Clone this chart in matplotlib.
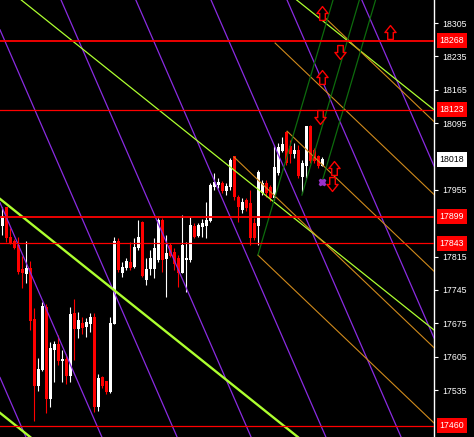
import matplotlib
matplotlib.use("Agg")
import matplotlib.pyplot as plt
from matplotlib.path import Path
import numpy as np

# OHLC of the 81 bars
opens = [17881, 17917, 17854, 17847, 17839, 17787, 17780, 17789, 17682, 17545,
         17577, 17709, 17518, 17619, 17631, 17596, 17600, 17566, 17696, 17663,
         17675, 17669, 17675, 17688, 17501, 17562, 17552, 17531, 17675, 17847,
         17782, 17791, 17803, 17795, 17833, 17887, 17766, 17789, 17789, 17808,
         17891, 17810, 17839, 17824, 17812, 17782, 17808, 17808, 17879, 17860,
         17877, 17881, 17891, 17961, 17967, 17969, 17954, 17961, 18024, 17940,
         17913, 17933, 17927, 17885, 17881, 17950, 17969, 17959, 17938, 17992,
         18038, 18076, 18045, 18032, 18038, 17982, 18007, 18087, 18038, 18024,
         18007]
closes = [17900, 17854, 17843, 17833, 17784, 17782, 17791, 17680, 17545, 17579,
          17711, 17518, 17623, 17631, 17596, 17600, 17566, 17694, 17665, 17680,
          17667, 17677, 17688, 17501, 17560, 17545, 17531, 17675, 17847, 17787,
          17793, 17805, 17791, 17835, 17856, 17776, 17787, 17812, 17833, 17891,
          17808, 17822, 17818, 17801, 17782, 17839, 17812, 17881, 17856, 17881,
          17885, 17891, 17965, 17971, 17971, 17954, 17961, 18017, 17940, 17919,
          17929, 17917, 17854, 17854, 17992, 17969, 17950, 17938, 18001, 18043,
          18051, 18013, 18032, 18038, 17986, 18011, 18087, 18017, 18017, 18007,
          18018]
highs = [17919, 17919, 17875, 17852, 17856, 17816, 17847, 17805, 17707, 17602,
         17719, 17715, 17636, 17638, 17650, 17619, 17610, 17709, 17726, 17698,
         17688, 17686, 17696, 17696, 17568, 17564, 17554, 17688, 17856, 17854,
         17803, 17812, 17845, 17854, 17891, 17889, 17812, 17829, 17854, 17896,
         17896, 17860, 17843, 17833, 17818, 17902, 17845, 17898, 17885, 17885,
         17894, 17929, 17969, 17990, 17980, 17973, 17969, 18022, 18026, 17944,
         17938, 17938, 17954, 17896, 17996, 17975, 17975, 17965, 18049, 18053,
         18066, 18078, 18059, 18053, 18049, 18017, 18089, 18091, 18043, 18028,
         18024]
lows = [17860, 17845, 17841, 17831, 17778, 17749, 17759, 17661, 17470, 17533,
        17575, 17487, 17499, 17552, 17587, 17552, 17547, 17552, 17598, 17644,
        17652, 17646, 17657, 17489, 17491, 17539, 17526, 17529, 17673, 17782,
        17772, 17787, 17787, 17791, 17829, 17772, 17755, 17776, 17770, 17803,
        17782, 17730, 17814, 17787, 17751, 17780, 17740, 17803, 17854, 17856,
        17856, 17854, 17887, 17954, 17959, 17948, 17944, 17954, 17933, 17887,
        17906, 17910, 17839, 17850, 17839, 17944, 17940, 17931, 17933, 17986,
        18034, 18007, 18011, 18022, 17980, 17948, 17980, 18011, 18011, 18001,
        18005]

# horizontal levels and axis
levels = [18268, 18123, 17899, 17843, 17460]
last_price = 18018
axis_ticks = [17535, 17605, 17675, 17745, 17815, 17955, 18095, 18165, 18235, 18305]

# purple parallel lines (anchor at the top price)
purple_bars = [-41.6, -22.6, -3.8, 14.7, 33.4, 52.2, 71.2, 89.9]
purple_price = 18353
purple_slope = -19.3

# yellow-green channel (anchor at first bar)
green_bar = -0.575
green_prices = [17487, 17936, 18389, 18851]
green_slope = -6.71

# orange rays
orange_bars = [57.9, 71.2, 63.9, 68.2, 80.7]
orange_prices = [18024, 18078, 17818, 18263, 18316]
orange_slope = -8.0

# dark green rays going up
dgreen_bars = [63.9, 74.9, 79.9]
dgreen_prices = [17818, 17944, 17971]
dgreen_slope = 28.5

# arrows and marker
up_bars = [79.9, 96.9, 79.9, 82.9]
up_prices = [18326, 18286, 18192, 18001]
down_bars = [84.4, 79.4, 82.4]
down_prices = [18244, 18108, 17967]
star_bar = [79.9]
star_price = [17971]

fig = plt.figure(figsize=(4.74, 4.37), dpi=100, facecolor="black")
ax = fig.add_axes([0, 0, 434 / 474, 1])
ax.set_facecolor("black")

x = np.arange(len(opens))
o = np.array(opens)
c = np.array(closes)
up = c >= o
cols = np.where(up, "white", "#ff0000")

ax.vlines(x, lows, highs, colors=cols, linewidth=0.8, zorder=2)
ax.bar(x, np.abs(c - o) + 2, bottom=np.minimum(o, c) - 1, width=0.75,
       color=cols, linewidth=0, zorder=3)

# trend lines
for b in purple_bars:
    ax.axline((b, purple_price), slope=purple_slope, color="#8a2be2", lw=0.9, zorder=4)

for i, p in enumerate(green_prices):
    w = 1.7 if i < 2 else 0.9
    ax.axline((green_bar, p), slope=green_slope, color="#adff2f", lw=w, zorder=4)

end = 112
for b, p in zip(orange_bars, orange_prices):
    ax.plot([b, end], [p, p + orange_slope * (end - b)], color="#d08a1c", lw=0.8, zorder=4)

for b, p in zip(dgreen_bars, dgreen_prices):
    b2 = b + (18400 - p) / dgreen_slope
    ax.plot([b, b2], [p, 18400], color="#0d6b0d", lw=0.9, zorder=4)

for i, lv in enumerate(levels):
    w = 1.3 if lv in (18268, 17899) else 0.9
    ax.axhline(lv, color="#ff0000", lw=w, zorder=5)

# hollow arrows
up_arrow = Path([(-0.2, -0.5), (0.2, -0.5), (0.2, 0.0), (0.4, 0.0), (0.0, 0.5),
                 (-0.4, 0.0), (-0.2, 0.0), (-0.2, -0.5)],
                [Path.MOVETO] + [Path.LINETO] * 6 + [Path.CLOSEPOLY])
down_arrow = Path([(vx, -vy) for vx, vy in up_arrow.vertices], up_arrow.codes)
ax.plot(up_bars, up_prices, ls="none", marker=up_arrow, ms=10, mfc="black",
        mec="#ff0000", mew=1.0, zorder=6)
ax.plot(down_bars, down_prices, ls="none", marker=down_arrow, ms=10, mfc="black",
        mec="#ff0000", mew=1.0, zorder=6)
ax.plot(star_bar, star_price, ls="none", marker="X", ms=5, color="#9932cc", zorder=6)

ax.set_xlim(-0.575, 107.925)
ax.set_ylim(17436.4, 18353.3)
ax.set_xticks([])

for s in ["left", "top", "bottom"]:
    ax.spines[s].set_visible(False)
ax.spines["right"].set_color("white")
ax.spines["right"].set_linewidth(1.0)

ax.yaxis.tick_right()
ax.set_yticks(axis_ticks)
ax.set_yticklabels([str(t) for t in axis_ticks])
ax.tick_params(axis="y", colors="white", length=3, width=0.8, pad=3,
               labelsize=6.3)
for lab in ax.get_yticklabels():
    lab.set_fontfamily("Liberation Sans")

tr = ax.get_yaxis_transform()
for lv in levels:
    ax.text(1.013, lv, str(lv), transform=tr, ha="left", va="center",
            fontsize=6.3, family="Liberation Sans", color="white", clip_on=False,
            bbox=dict(boxstyle="square,pad=0.35", fc="#ff0000", ec="none"))
ax.text(1.013, last_price, str(last_price), transform=tr, ha="left", va="center",
        fontsize=6.3, family="Liberation Sans", color="black", clip_on=False,
        bbox=dict(boxstyle="square,pad=0.35", fc="white", ec="none"))

fig.savefig("out.png", dpi=100, facecolor="black")
